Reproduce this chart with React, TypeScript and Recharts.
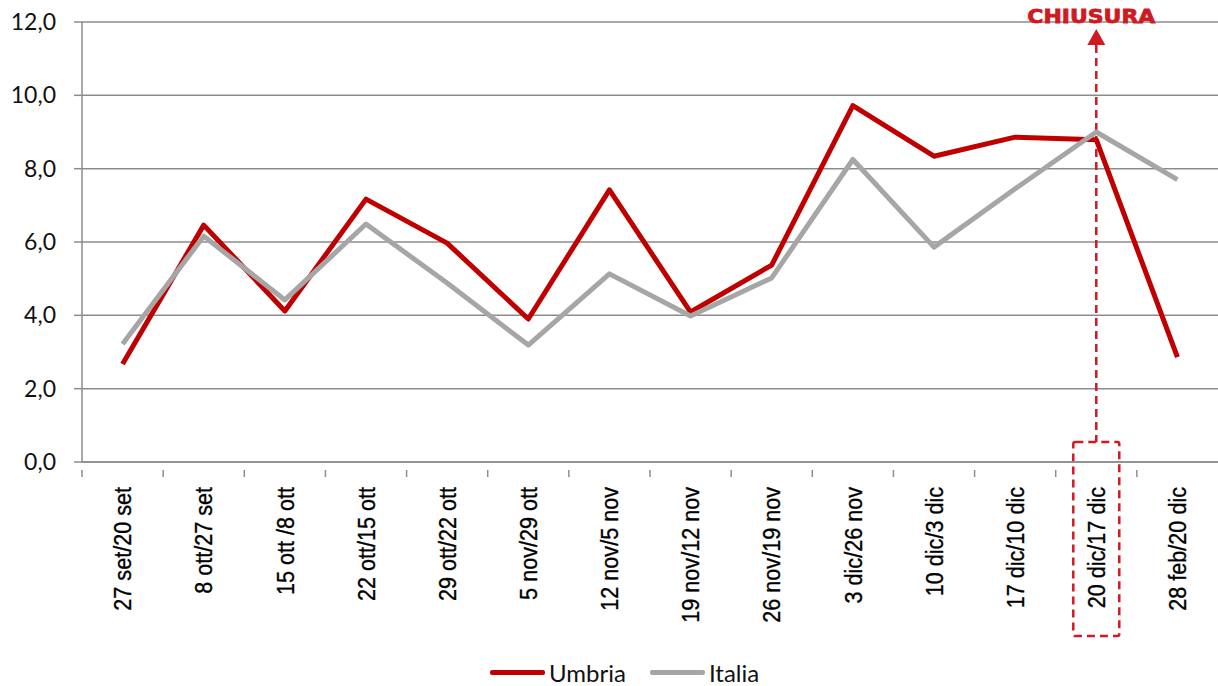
import React from 'react';
import { CartesianGrid, Legend, Line, LineChart, ReferenceLine, XAxis, YAxis } from 'recharts';

const categories = [
  '27 set/20 set', '8 ott/27 set', '15 ott /8 ott', '22 ott/15 ott', '29 ott/22 ott',
  '5 nov/29 ott', '12 nov/5 nov', '19 nov/12 nov', '26 nov/19 nov', '3 dic/26 nov',
  '10 dic/3 dic', '17 dic/10 dic', '20 dic/17 dic', '28 feb/20 dic',
];
const umbria = [2.67, 6.46, 4.12, 7.17, 5.97, 3.9, 7.42, 4.09, 5.37, 9.72, 8.34, 8.86, 8.79, 2.86];
const italia = [3.22, 6.16, 4.42, 6.49, 4.88, 3.19, 5.13, 3.98, 5.02, 8.25, 5.86, 7.45, 9.0, 7.7];
const seriesNames = ['Umbria', 'Italia'];
const yTicks = [0, 2, 4, 6, 8, 10, 12];
const closingWeek = '20 dic/17 dic';
const closingLabel = 'CHIUSURA';

const data = categories.map((name, i) => ({ name, Umbria: umbria[i], Italia: italia[i] }));

const W = 1218;
const H = 686;
const Y_AXIS_W = 82;
const BAND = (W - Y_AXIS_W) / categories.length;
const GRID = '#8c8c8c';
const RED = '#c00000';
const GREY = '#a6a6a6';
const ANN = '#d01a22';

const XTick = (props: any) => {
  const { x, y, payload } = props;
  const left = x - BAND / 2;
  return (
    <g>
      <line x1={left} x2={left} y1={y} y2={y + 7} stroke={GRID} strokeWidth={1.5} />
      <text
        transform={`translate(${x}, ${y + 17}) rotate(-90) scale(0.9, 1)`}
        textAnchor="end"
        dy="0.36em"
        fontSize={24}
        fontFamily="'Liberation Sans', Arial, sans-serif"
        fill="#000"
        stroke="#000"
        strokeWidth={0.35}
      >
        {payload.value}
      </text>
    </g>
  );
};

const Closing = (props: any) => {
  const { x1, y1, y2 } = props;
  const top = Math.min(y1, y2);
  const bottom = Math.max(y1, y2);
  const dash = '8 5';
  return (
    <g>
      <text x={x1 - 5} y={top + 1} textAnchor="middle" fontSize={19} fontWeight="bold"
        fontFamily="'DejaVu Sans', sans-serif" fill={ANN} stroke={ANN} strokeWidth={0.8}
        textLength={128} lengthAdjust="spacingAndGlyphs">
        {closingLabel}
      </text>
      <polygon points={`${x1},${top + 7} ${x1 - 9},${top + 23} ${x1 + 9},${top + 23}`} fill={ANN} />
      <line x1={x1} x2={x1} y1={top + 23} y2={bottom - 20} stroke={ANN} strokeWidth={2.5} strokeDasharray={dash} />
      <rect x={x1 - 23} y={bottom - 20} width={46} height={194} fill="none" stroke={ANN}
        strokeWidth={2.5} strokeDasharray={dash} rx={2} />
    </g>
  );
};

const LegendContent = (props: any) => {
  const items = [...(props.payload || [])].sort(
    (a: any, b: any) => seriesNames.indexOf(a.value) - seriesNames.indexOf(b.value),
  );
  return (
    <div style={{ display: 'flex', alignItems: 'center', fontFamily: 'Lato, sans-serif', fontSize: 24, color: '#111' }}>
      {items.map((p: any) => (
        <div key={p.value} style={{ display: 'flex', alignItems: 'center', marginRight: 24 }}>
          <span style={{ display: 'inline-block', width: 55, height: 5, background: p.color, borderRadius: 2, marginRight: 4 }} />
          <span>{p.value}</span>
        </div>
      ))}
    </div>
  );
};

export default function App() {
  return (
    <div style={{ position: 'absolute', left: 0, top: 0, background: '#fff' }}>
      <LineChart width={W} height={H} data={data} margin={{ top: 22, right: 0, bottom: 0, left: 0 }}>
        <CartesianGrid vertical={false} stroke={GRID} strokeWidth={1.5} />
        <XAxis
          dataKey="name"
          scale="band"
          interval={0}
          height={196}
          axisLine={{ stroke: GRID, strokeWidth: 1.5 }}
          tickLine={false}
          tick={<XTick />}
        />
        <YAxis
          width={Y_AXIS_W}
          domain={[0, 12]}
          ticks={yTicks}
          tickSize={8}
          tickMargin={18}
          axisLine={{ stroke: GRID, strokeWidth: 1.5 }}
          tickLine={{ stroke: GRID, strokeWidth: 1.5 }}
          tickFormatter={(v: number) => v.toFixed(1).replace('.', ',')}
          tick={{ fontSize: 23, fill: '#111', fontFamily: 'Lato, sans-serif' }}
        />
        <ReferenceLine x={closingWeek} ifOverflow="visible" shape={<Closing />} />
        <Line dataKey="Umbria" stroke={RED} strokeWidth={5} dot={false} isAnimationActive={false} strokeLinejoin="round" />
        <Line dataKey="Italia" stroke={GREY} strokeWidth={5} dot={false} isAnimationActive={false} strokeLinejoin="round" />
        <Legend
          verticalAlign="bottom"
          height={28}
          content={<LegendContent />}
          wrapperStyle={{ left: 490, width: 340, bottom: 0 }}
        />
      </LineChart>
    </div>
  );
}
